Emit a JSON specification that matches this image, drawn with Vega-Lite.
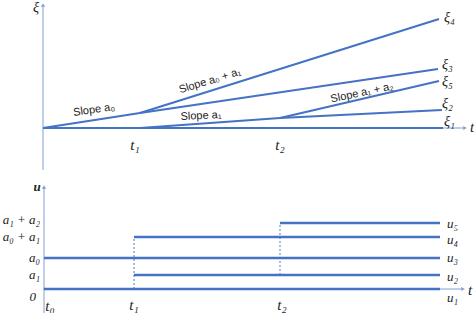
{
  "$schema": "https://vega.github.io/schema/vega-lite/v6.json",
  "width": 474,
  "height": 313,
  "padding": 0,
  "autosize": {"type": "none"},
  "background": "white",
  "config": {"view": {"stroke": null}},
  "datasets": {
    "xi": [
      {"seg": "a0", "t": 0, "xi": 0}, {"seg": "a0", "t": 97, "xi": 15},
      {"seg": "xi4", "t": 97, "xi": 15}, {"seg": "xi4", "t": 396, "xi": 109},
      {"seg": "xi3", "t": 97, "xi": 15}, {"seg": "xi3", "t": 395, "xi": 59},
      {"seg": "xi1", "t": 0, "xi": 0}, {"seg": "xi1", "t": 400, "xi": 0},
      {"seg": "a1", "t": 97, "xi": 0}, {"seg": "a1", "t": 237, "xi": 10},
      {"seg": "xi2", "t": 237, "xi": 10}, {"seg": "xi2", "t": 399, "xi": 18},
      {"seg": "xi5", "t": 237, "xi": 10}, {"seg": "xi5", "t": 396, "xi": 47}
    ],
    "xiAxes": [
      {"seg": "y", "t": 0, "xi": -42}, {"seg": "y", "t": 0, "xi": 123},
      {"seg": "x", "t": 0, "xi": 0}, {"seg": "x", "t": 420, "xi": 0}
    ],
    "xiEnds": [
      {"label": "ξ₄", "t": 401, "xi": 110},
      {"label": "ξ₃", "t": 399, "xi": 63},
      {"label": "ξ₅", "t": 399, "xi": 46},
      {"label": "ξ₂", "t": 399, "xi": 24},
      {"label": "ξ₁", "t": 401, "xi": 6}
    ],
    "xiTicks": [
      {"label": "t₁", "t": 92, "xi": -17},
      {"label": "t₂", "t": 237, "xi": -17}
    ],
    "u": [
      {"seg": "u1", "t": 1, "u": 0}, {"seg": "u1", "t": 397, "u": 0},
      {"seg": "u2", "t": 91, "u": 14}, {"seg": "u2", "t": 397, "u": 14},
      {"seg": "u3", "t": 1, "u": 31}, {"seg": "u3", "t": 397, "u": 31},
      {"seg": "u4", "t": 91, "u": 52}, {"seg": "u4", "t": 397, "u": 52},
      {"seg": "u5", "t": 237, "u": 66}, {"seg": "u5", "t": 397, "u": 66}
    ],
    "uDash": [
      {"seg": "t1", "t": 91, "u": 0}, {"seg": "t1", "t": 91, "u": 52},
      {"seg": "t2", "t": 237, "u": 14}, {"seg": "t2", "t": 237, "u": 66}
    ],
    "uAxes": [
      {"seg": "y", "t": 1, "u": -24}, {"seg": "y", "t": 1, "u": 101},
      {"seg": "x", "t": 0, "u": 0}, {"seg": "x", "t": 418, "u": 0}
    ],
    "uEnds": [
      {"label": "u₅", "t": 404, "u": 65},
      {"label": "u₄", "t": 404, "u": 49},
      {"label": "u₃", "t": 404, "u": 31},
      {"label": "u₂", "t": 404, "u": 12},
      {"label": "u₁", "t": 404, "u": -9}
    ],
    "uLeft": [
      {"label": "a₁ + a₂", "t": -3, "u": 69},
      {"label": "a₀ + a₁", "t": -3, "u": 52},
      {"label": "a₀", "t": -3, "u": 31},
      {"label": "a₁", "t": -3, "u": 14},
      {"label": "0", "t": -7, "u": -8}
    ],
    "uTicks": [
      {"label": "t₀", "t": 7, "u": -17},
      {"label": "t₁", "t": 91, "u": -16},
      {"label": "t₂", "t": 239, "u": -16}
    ]
  },
  "resolve": {"scale": {"y": "independent", "shape": "independent"}},
  "layer": [
    {
      "layer": [
        {
          "data": {"name": "xiAxes"},
          "mark": {"type": "line", "color": "#A9BEE4", "strokeWidth": 1.5},
          "encoding": {
            "x": {"field": "t", "type": "quantitative", "scale": {"domain": [-43, 431], "nice": false, "zero": false}, "axis": null},
            "y": {"field": "xi", "type": "quantitative", "scale": {"domain": [-185, 128], "nice": false, "zero": false}, "axis": null},
            "detail": {"field": "seg"}
          }
        },
        {
          "data": {"values": [{"t": 0, "xi": 123, "dir": "up"}, {"t": 422, "xi": 0, "dir": "right"}]},
          "mark": {"type": "point", "filled": true, "color": "#7F9FD8", "size": 18, "opacity": 1},
          "encoding": {
            "x": {"field": "t", "type": "quantitative"},
            "y": {"field": "xi", "type": "quantitative"},
            "shape": {"field": "dir", "type": "nominal", "scale": {"domain": ["up", "right"], "range": ["triangle-up", "triangle-right"]}, "legend": null}
          }
        },
        {
          "data": {"name": "xi"},
          "mark": {"type": "line", "color": "#4472C4", "strokeWidth": 2},
          "encoding": {
            "x": {"field": "t", "type": "quantitative"},
            "y": {"field": "xi", "type": "quantitative"},
            "detail": {"field": "seg"}
          }
        },
        {
          "data": {"name": "xiEnds"},
          "mark": {"type": "text", "align": "left", "baseline": "middle", "font": "Liberation Serif", "fontStyle": "italic", "fontSize": 14, "color": "#222"},
          "encoding": {
            "x": {"field": "t", "type": "quantitative"},
            "y": {"field": "xi", "type": "quantitative"},
            "text": {"field": "label"}
          }
        },
        {
          "data": {"name": "xiTicks"},
          "mark": {"type": "text", "align": "center", "baseline": "middle", "font": "Liberation Serif", "fontStyle": "italic", "fontSize": 15, "color": "#222"},
          "encoding": {
            "x": {"field": "t", "type": "quantitative"},
            "y": {"field": "xi", "type": "quantitative"},
            "text": {"field": "label"}
          }
        },
        {
          "data": {"values": [{"label": "ξ", "t": -7, "xi": 120}]},
          "mark": {"type": "text", "align": "center", "baseline": "middle", "font": "Liberation Serif", "fontStyle": "italic", "fontSize": 14, "color": "#222"},
          "encoding": {
            "x": {"field": "t", "type": "quantitative"},
            "y": {"field": "xi", "type": "quantitative"},
            "text": {"field": "label"}
          }
        },
        {
          "data": {"values": [{"label": "t", "t": 427, "xi": 1}]},
          "mark": {"type": "text", "align": "left", "baseline": "middle", "font": "Liberation Serif", "fontStyle": "italic", "fontSize": 15, "color": "#222"},
          "encoding": {
            "x": {"field": "t", "type": "quantitative"},
            "y": {"field": "xi", "type": "quantitative"},
            "text": {"field": "label"}
          }
        },
        {
          "data": {"values": [{"label": "Slope a₀", "t": 51, "xi": 18}]},
          "mark": {"type": "text", "align": "center", "baseline": "middle", "font": "Liberation Sans", "fontSize": 11, "angle": 352, "color": "#222"},
          "encoding": {
            "x": {"field": "t", "type": "quantitative"},
            "y": {"field": "xi", "type": "quantitative"},
            "text": {"field": "label"}
          }
        },
        {
          "data": {"values": [{"label": "Slope a₀ + a₁", "t": 167, "xi": 47}]},
          "mark": {"type": "text", "align": "center", "baseline": "middle", "font": "Liberation Sans", "fontSize": 11, "angle": 343, "color": "#222"},
          "encoding": {
            "x": {"field": "t", "type": "quantitative"},
            "y": {"field": "xi", "type": "quantitative"},
            "text": {"field": "label"}
          }
        },
        {
          "data": {"values": [{"label": "Slope a₁", "t": 158, "xi": 12}]},
          "mark": {"type": "text", "align": "center", "baseline": "middle", "font": "Liberation Sans", "fontSize": 11, "angle": 357, "color": "#222"},
          "encoding": {
            "x": {"field": "t", "type": "quantitative"},
            "y": {"field": "xi", "type": "quantitative"},
            "text": {"field": "label"}
          }
        },
        {
          "data": {"values": [{"label": "Slope a₁ + a₂", "t": 319, "xi": 35}]},
          "mark": {"type": "text", "align": "center", "baseline": "middle", "font": "Liberation Sans", "fontSize": 11, "angle": 348, "color": "#222"},
          "encoding": {
            "x": {"field": "t", "type": "quantitative"},
            "y": {"field": "xi", "type": "quantitative"},
            "text": {"field": "label"}
          }
        }
      ]
    },
    {
      "layer": [
        {
          "data": {"name": "uAxes"},
          "mark": {"type": "line", "color": "#A9BEE4", "strokeWidth": 1.5},
          "encoding": {
            "x": {"field": "t", "type": "quantitative", "axis": null},
            "y": {"field": "u", "type": "quantitative", "scale": {"domain": [-24, 289], "nice": false, "zero": false}, "axis": null},
            "detail": {"field": "seg"}
          }
        },
        {
          "data": {"values": [{"t": 1, "u": 102, "dir": "up"}, {"t": 420, "u": 0, "dir": "right"}]},
          "mark": {"type": "point", "filled": true, "color": "#7F9FD8", "size": 18, "opacity": 1},
          "encoding": {
            "x": {"field": "t", "type": "quantitative"},
            "y": {"field": "u", "type": "quantitative"},
            "shape": {"field": "dir", "type": "nominal", "scale": {"domain": ["up", "right"], "range": ["triangle-up", "triangle-right"]}, "legend": null}
          }
        },
        {
          "data": {"name": "uDash"},
          "mark": {"type": "line", "color": "#6F8FC8", "strokeWidth": 1.2, "strokeDash": [2, 2]},
          "encoding": {
            "x": {"field": "t", "type": "quantitative"},
            "y": {"field": "u", "type": "quantitative"},
            "detail": {"field": "seg"}
          }
        },
        {
          "data": {"name": "u"},
          "mark": {"type": "line", "color": "#4472C4", "strokeWidth": 2.5},
          "encoding": {
            "x": {"field": "t", "type": "quantitative"},
            "y": {"field": "u", "type": "quantitative"},
            "detail": {"field": "seg"}
          }
        },
        {
          "data": {"name": "uEnds"},
          "mark": {"type": "text", "align": "left", "baseline": "middle", "font": "Liberation Serif", "fontStyle": "italic", "fontSize": 13, "color": "#222"},
          "encoding": {
            "x": {"field": "t", "type": "quantitative"},
            "y": {"field": "u", "type": "quantitative"},
            "text": {"field": "label"}
          }
        },
        {
          "data": {"name": "uLeft"},
          "mark": {"type": "text", "align": "right", "baseline": "middle", "font": "Liberation Serif", "fontStyle": "italic", "fontSize": 13, "color": "#222"},
          "encoding": {
            "x": {"field": "t", "type": "quantitative"},
            "y": {"field": "u", "type": "quantitative"},
            "text": {"field": "label"}
          }
        },
        {
          "data": {"name": "uTicks"},
          "mark": {"type": "text", "align": "center", "baseline": "middle", "font": "Liberation Serif", "fontStyle": "italic", "fontSize": 15, "color": "#222"},
          "encoding": {
            "x": {"field": "t", "type": "quantitative"},
            "y": {"field": "u", "type": "quantitative"},
            "text": {"field": "label"}
          }
        },
        {
          "data": {"values": [{"label": "u", "t": -6, "u": 102}]},
          "mark": {"type": "text", "align": "center", "baseline": "middle", "font": "Liberation Serif", "fontStyle": "italic", "fontWeight": "bold", "fontSize": 13, "color": "#222"},
          "encoding": {
            "x": {"field": "t", "type": "quantitative"},
            "y": {"field": "u", "type": "quantitative"},
            "text": {"field": "label"}
          }
        },
        {
          "data": {"values": [{"label": "t", "t": 425, "u": -1}]},
          "mark": {"type": "text", "align": "left", "baseline": "middle", "font": "Liberation Serif", "fontStyle": "italic", "fontSize": 15, "color": "#222"},
          "encoding": {
            "x": {"field": "t", "type": "quantitative"},
            "y": {"field": "u", "type": "quantitative"},
            "text": {"field": "label"}
          }
        }
      ]
    }
  ]
}
